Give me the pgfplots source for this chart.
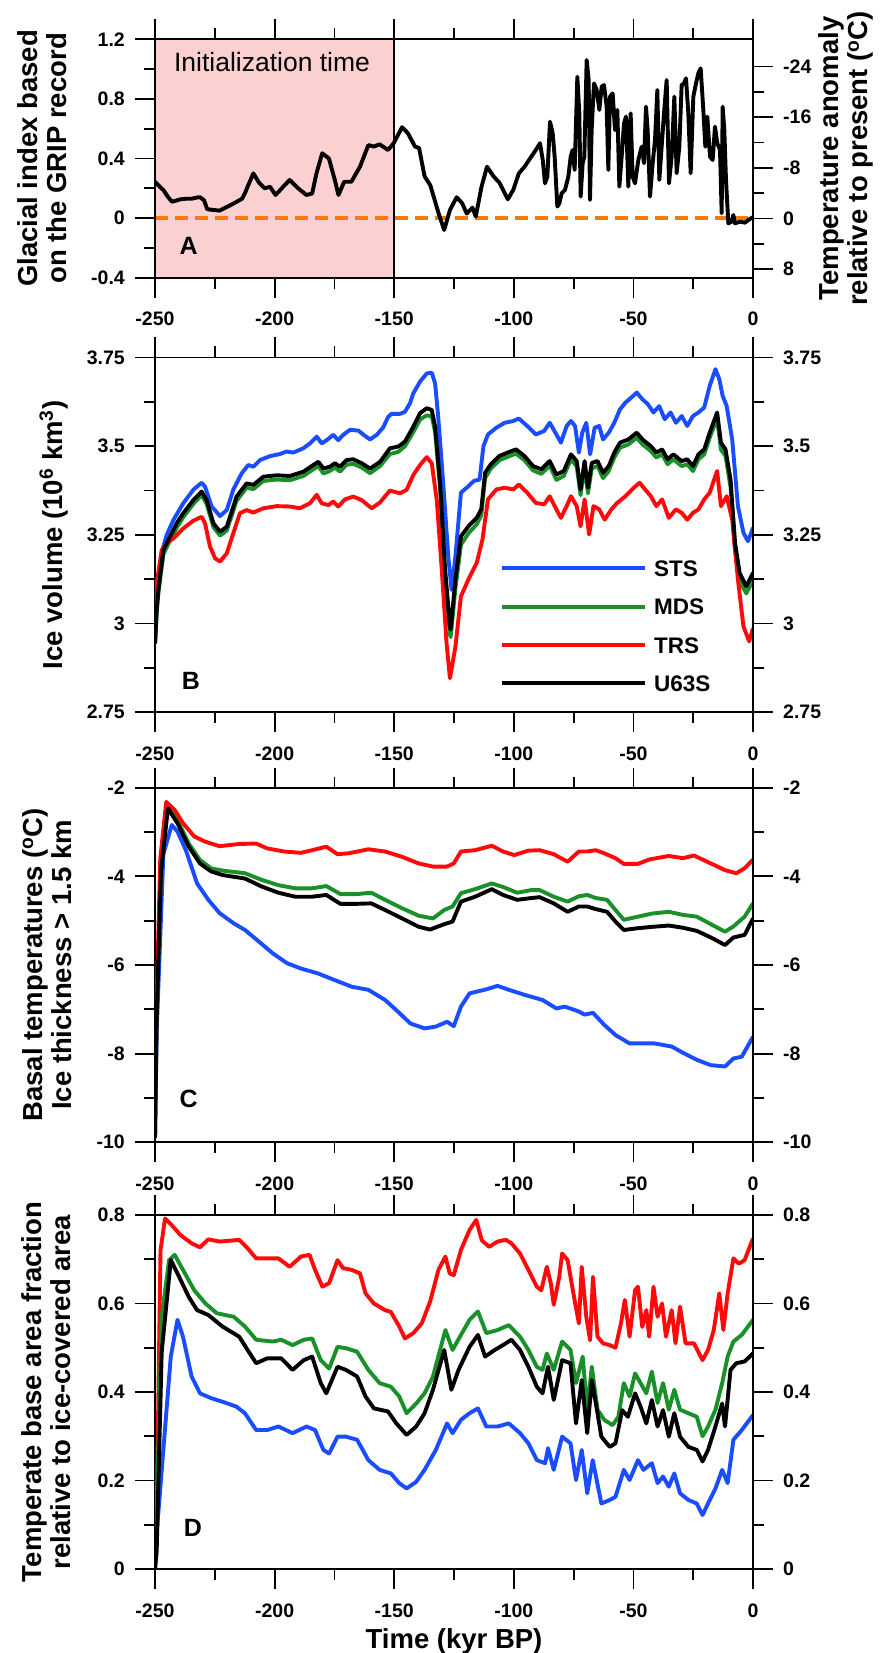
\documentclass[border=0pt]{standalone}
\usepackage{fontspec}
\setmainfont{Liberation Sans}
\usepackage{pgfplots}
\pgfplotsset{compat=1.18}

\definecolor{cblue}{RGB}{26,77,255}
\definecolor{cgreen}{RGB}{25,145,40}
\definecolor{cred}{RGB}{255,10,10}
\definecolor{corange}{RGB}{255,120,10}
\definecolor{cpink}{RGB}{250,208,208}

\newcommand\tickf{\fontsize{19.5pt}{19.5pt}\selectfont\bfseries}
\newcommand\labf{\fontsize{27.5pt}{29.5pt}\selectfont\bfseries}
\newcommand\legf{\fontsize{22.5pt}{22.5pt}\selectfont\bfseries}
\newcommand\letf{\fontsize{25pt}{25pt}\selectfont\bfseries}

\pgfplotsset{
  panel/.style={
    scale only axis, width=598pt,
    xmin=-250, xmax=0,
    xtick={-250,-200,-150,-100,-50,0},
    xticklabels={-250,-200,-150,-100,-50,0},
    minor xtick={-225,-175,-125,-75,-25},
    tick align=outside,
    major tick length=20pt, minor tick length=11pt,
    axis line style={line width=1.8pt},
    tick style={line width=1.8pt, black},
    ytick pos=left,
    xticklabel style={font=\tickf, inner sep=0pt, anchor=north},
    yticklabel style={font=\tickf, inner sep=0pt, anchor=east},
    xticklabel shift=14.5pt, yticklabel shift=10pt,
    every axis plot/.append style={line width=3.9pt, line join=round},
  },
  rpanel/.style={
    scale only axis, width=598pt,
    xmin=-250, xmax=0,
    hide x axis,
    axis y line*=right,
    tick align=outside,
    major tick length=20pt, minor tick length=11pt,
    axis line style={line width=1.8pt},
    tick style={line width=1.8pt, black},
    yticklabel style={font=\tickf, inner sep=0pt, anchor=west},
    yticklabel shift=10pt,
  },
}

\begin{document}
\begin{tikzpicture}
\useasboundingbox (0pt,0pt) rectangle (880pt,1653pt);

% ---------------- Panel A ----------------
\begin{axis}[panel, at={(155pt,1613.7pt)}, anchor=north west, height=238.4pt,
  ymin=-0.4, ymax=1.2, ytick={-0.4,0,0.4,0.8,1.2}, yticklabels={-0.4,0,0.4,0.8,1.2},
  minor ytick={-0.2,0.2,0.6,1.0}, axis on top]
\addplot[draw=none, fill=cpink, forget plot] coordinates {(-250,-0.4) (-250,1.2) (-150,1.2) (-150,-0.4)};
\addplot[black, line width=1.8pt, forget plot] coordinates {(-150,-0.4) (-150,1.2)};
\addplot[corange, line width=4pt, dash pattern=on 13pt off 7pt, forget plot] coordinates {(-250,0) (0,0)};
\addplot[black, forget plot] coordinates {
(-250,0.244) (-248,0.21) (-246.5,0.188) (-244.5,0.14) (-242.9,0.11) (-241,0.118) (-239.4,0.126) (-237,0.13) (-234.7,0.13) (-232.5,0.138) (-231.2,0.14) (-229.5,0.12) (-228.2,0.06) (-226,0.055) (-223,0.05) (-220.5,0.07) (-218.3,0.088) (-215.8,0.11) (-213.6,0.13) (-212.3,0.17) (-211.3,0.21) (-208.9,0.30) (-206.6,0.24) (-204.2,0.2) (-201.9,0.21) (-199.6,0.155) (-197,0.2) (-193.7,0.256) (-190.2,0.2) (-186.7,0.155) (-184.3,0.165) (-182.5,0.3) (-180.1,0.435) (-177.3,0.4) (-174.9,0.26) (-173.3,0.155) (-170.9,0.244) (-167.9,0.244) (-164.3,0.345) (-160.8,0.49) (-158.5,0.48) (-156.1,0.495) (-152.6,0.457) (-150.3,0.5) (-146.7,0.61) (-144.3,0.57) (-141.3,0.48) (-139.6,0.47) (-137.3,0.28) (-134.9,0.22) (-131.4,0.03) (-129.1,-0.08) (-126.7,0.054) (-123.9,0.14) (-121.6,0.1) (-119.7,0.03) (-117.3,0.07) (-115.9,0.01) (-113.5,0.21) (-111.2,0.345) (-108.4,0.278) (-106.1,0.24) (-102.5,0.126) (-100.2,0.19) (-97.9,0.3) (-95.5,0.345) (-93.2,0.4) (-90.8,0.457)
(-89.05,0.502) (-87.9,0.39) (-86.96,0.233) (-85.98,0.278) (-84.87,0.647) (-83.75,0.569) (-82.92,0.412) (-81.8,0.077) (-80.97,0.099) (-79.99,0.166) (-78.6,0.189) (-77.2,0.278) (-76.23,0.412) (-75.39,0.457) (-74.56,0.323) (-73.44,0.949) (-72.61,0.703) (-72.05,0.144) (-71.21,0.368) (-70.52,0.412) (-69.54,1.061) (-68.7,0.927) (-68.15,0.122) (-67.45,0.591) (-66.48,0.904) (-65.36,0.86) (-64.25,0.726) (-63.27,0.882) (-62.3,0.893) (-61.18,0.748) (-60.48,0.323) (-59.79,0.815) (-58.67,0.837) (-57.7,0.591) (-56.72,0.726) (-55.88,0.211) (-54.91,0.412) (-53.93,0.636) (-53.1,0.681) (-52.12,0.211) (-51.15,0.703) (-50.31,0.278) (-49.33,0.233) (-47.94,0.39) (-46.55,0.479) (-45.57,0.368) (-44.74,0.748) (-44.04,0.591) (-43.06,0.144) (-41.95,0.368) (-40.97,0.524) (-40.0,0.86) (-39.16,0.256) (-38.19,0.479) (-37.21,0.703) (-36.1,0.927) (-35.12,0.233) (-34.01,0.412) (-32.89,0.815) (-31.92,0.301) (-30.8,0.479) (-29.83,0.893) (-28.85,0.904) (-28.02,0.938) (-27.04,0.703) (-26.06,0.301) (-24.95,0.815) (-23.83,0.904) (-22.86,0.972) (-21.88,1.005) (-20.77,0.726) (-19.93,0.479) (-19.1,0.681) (-17.98,0.412) (-16.87,0.39) (-15.89,0.614) (-14.92,0.502) (-13.8,0.457) (-13.1,0.032) (-12.69,0.748) (-11.99,0.591) (-11.29,0.256) (-10.32,-0.035) (-8.92,-0.024) (-8.23,0.021) (-7.53,-0.035) (-5.44,-0.024) (-3.35,-0.031) (-1.96,-0.013) (-0.15,0.005)
};
\end{axis}
\begin{axis}[rpanel, at={(155pt,1613.7pt)}, anchor=north west, height=238.4pt,
  ymin=-28.3, ymax=9.33, y dir=reverse, ytick={-24,-16,-8,0,8}, yticklabels={-24,-16,-8,0,8},
  minor ytick={-20,-12,-4,4}]
\end{axis}

% ---------------- Panel B ----------------
\begin{axis}[panel, at={(155pt,1295.5pt)}, anchor=north west, height=354.8pt,
  ymin=2.75, ymax=3.75, ytick={2.75,3,3.25,3.5,3.75}, yticklabels={2.75,3,3.25,3.5,3.75},
  minor ytick={2.875,3.125,3.375,3.625},
  legend style={at={(rel axis cs:0.5769,0.4284)}, anchor=north west, draw=none, fill=none,
    inner sep=0pt, row sep=22.3pt, font=\legf,
    nodes={inner sep=0pt, text height=16pt, text depth=0pt},
    /tikz/every odd column/.append style={column sep=7pt}},
  legend cell align=left,
  legend image code/.code={\draw[#1, line width=4pt, line cap=butt] (0pt,0pt) -- (143pt,0pt);}]
\addplot[cblue] coordinates {
(-250.0,2.944) (-249.3,3.057) (-248.6,3.113) (-246.5,3.217) (-245.1,3.25) (-242.3,3.292) (-238.2,3.339) (-234.0,3.377) (-230.5,3.397) (-229.1,3.386) (-226.3,3.33) (-222.8,3.303) (-220.0,3.32) (-217.3,3.377) (-213.8,3.423) (-211.0,3.447) (-208.9,3.442) (-206.1,3.461) (-201.9,3.472) (-197.7,3.478) (-195.0,3.485) (-192.2,3.482) (-188.0,3.494) (-185.2,3.508) (-182.4,3.527) (-180.3,3.508) (-178.2,3.517) (-175.5,3.532) (-173.4,3.517) (-171.3,3.532) (-168.5,3.546) (-165.0,3.544) (-162.2,3.529) (-160.1,3.519) (-157.3,3.532) (-154.6,3.553) (-152.5,3.583) (-151.1,3.591) (-147.6,3.591) (-145.5,3.597) (-143.4,3.621) (-142.0,3.649) (-139.2,3.682) (-136.4,3.705) (-134.3,3.707) (-132.9,3.677) (-131.6,3.583) (-129.5,3.395) (-127.4,3.189) (-126.0,3.095)
(-124.4,3.19) (-122.1,3.369) (-119.0,3.387) (-116.7,3.402) (-114.3,3.406) (-112.7,3.5) (-110.8,3.533) (-107.3,3.552) (-103.8,3.566) (-100.2,3.571) (-97.9,3.578) (-94.4,3.557) (-90.8,3.533) (-87.3,3.543) (-85.0,3.566) (-82.6,3.538) (-80.3,3.51) (-77.9,3.557) (-76.1,3.571) (-74.4,3.557) (-72.8,3.482) (-71.4,3.538) (-69.7,3.566) (-68.1,3.477) (-66.2,3.552) (-64.3,3.557) (-62.7,3.519) (-60.3,3.538) (-58.0,3.566) (-55.6,3.604) (-53.3,3.623) (-50.9,3.637) (-48.6,3.651) (-46.2,3.632) (-43.9,3.618) (-41.6,3.595) (-39.2,3.613) (-36.9,3.576) (-34.5,3.595) (-32.2,3.566) (-29.8,3.585) (-27.5,3.557) (-25.1,3.585) (-22.8,3.595) (-20.4,3.609) (-18.1,3.67) (-15.7,3.717) (-14.1,3.689) (-12.7,3.642) (-11.0,3.613) (-8.7,3.519) (-6.3,3.331) (-4.0,3.256) (-2.1,3.232) (0,3.27)
};
\addplot[cgreen] coordinates {
(-250,2.944) (-249.3,3.03) (-248.6,3.085) (-246.5,3.195) (-243.7,3.235) (-240.9,3.27) (-238.2,3.3) (-234.0,3.337) (-230.5,3.362) (-228.4,3.337) (-225.6,3.272) (-222.8,3.248) (-220.0,3.262) (-215.9,3.346) (-211.7,3.383) (-208.9,3.379) (-204.7,3.402) (-199.1,3.406) (-193.6,3.404) (-188.0,3.416) (-183.8,3.435) (-181.7,3.444) (-179.6,3.423) (-176.9,3.43) (-174.8,3.44) (-172.7,3.428) (-169.9,3.448) (-167.1,3.45) (-163.6,3.44) (-160.1,3.424) (-155.9,3.444) (-151.8,3.478) (-148.3,3.484) (-145.5,3.5) (-142.0,3.54) (-139.2,3.575) (-136.4,3.587) (-134.3,3.584) (-132.9,3.54) (-130.8,3.38) (-128.8,3.14) (-126.7,2.97) (-126.4,2.962) (-124.4,3.1) (-122.1,3.222) (-119.0,3.254) (-115.5,3.28) (-113.6,3.305) (-112.0,3.41) (-109.6,3.437) (-106.1,3.46) (-102.6,3.47) (-99.1,3.479) (-95.5,3.46) (-92.0,3.432) (-88.5,3.422) (-85.0,3.445) (-82.2,3.405) (-79.1,3.416) (-76.1,3.463) (-73.7,3.443) (-72.1,3.362) (-70.4,3.443) (-69.0,3.367) (-67.4,3.438) (-65.0,3.444) (-62.7,3.41) (-60.3,3.43) (-58.0,3.468) (-55.6,3.496) (-52.1,3.505) (-48.6,3.524) (-46.2,3.505) (-42.7,3.486) (-40.4,3.468) (-38.0,3.477) (-35.7,3.449) (-33.3,3.463) (-29.8,3.444) (-27.5,3.449) (-25.1,3.43) (-22.8,3.463) (-20.4,3.477) (-18.1,3.524) (-15.0,3.578) (-13.4,3.49) (-11.5,3.473) (-9.4,3.385) (-7.5,3.205) (-5.6,3.12) (-2.8,3.085) (0,3.122)
};
\addplot[cred] coordinates {
(-250,2.95) (-249.3,3.113) (-247.2,3.207) (-245.1,3.226) (-242.3,3.24) (-238.2,3.268) (-234.0,3.29) (-230.5,3.301) (-229.1,3.283) (-227.0,3.217) (-224.9,3.184) (-222.8,3.175) (-220.0,3.198) (-217.3,3.254) (-214.5,3.311) (-211.7,3.32) (-208.9,3.313) (-204.7,3.325) (-199.1,3.331) (-193.6,3.33) (-189.4,3.325) (-185.2,3.339) (-182.4,3.363) (-180.3,3.339) (-177.5,3.334) (-175.5,3.344) (-173.4,3.33) (-170.6,3.35) (-167.1,3.358) (-163.6,3.348) (-159.4,3.325) (-156.0,3.341) (-151.8,3.375) (-147.6,3.367) (-144.8,3.377) (-142.0,3.419) (-139.2,3.447) (-136.4,3.469) (-134.3,3.452) (-132.2,3.348) (-130.2,3.16) (-128.1,2.944) (-126.7,2.846)
(-124.4,2.935) (-122.1,3.077) (-119.0,3.124) (-115.5,3.171) (-113.1,3.237) (-110.8,3.35) (-107.3,3.378) (-103.8,3.383) (-100.2,3.378) (-97.9,3.392) (-94.4,3.369) (-90.8,3.34) (-87.3,3.336) (-85.0,3.359) (-82.2,3.322) (-80.3,3.298) (-77.9,3.331) (-76.1,3.359) (-73.7,3.331) (-72.1,3.274) (-70.4,3.35) (-68.5,3.251) (-66.7,3.331) (-64.3,3.322) (-62.0,3.293) (-59.2,3.322) (-56.8,3.34) (-53.3,3.359) (-49.8,3.383) (-47.4,3.397) (-45.1,3.378) (-42.7,3.359) (-40.4,3.331) (-38.0,3.35) (-35.2,3.298) (-32.2,3.322) (-29.8,3.312) (-27.5,3.293) (-25.1,3.312) (-22.8,3.322) (-20.4,3.35) (-18.1,3.369) (-15.0,3.43) (-13.4,3.331) (-11.0,3.359) (-8.7,3.293) (-6.3,3.124) (-4.0,2.992) (-1.6,2.95) (0,2.987)
};
\addplot[black] coordinates {
(-250.0,2.944) (-249.3,3.038) (-248.6,3.095) (-246.5,3.207) (-243.7,3.245) (-240.9,3.283) (-238.2,3.311) (-234.0,3.348) (-230.5,3.372) (-228.4,3.348) (-225.6,3.283) (-222.8,3.259) (-220.0,3.273) (-215.9,3.358) (-211.7,3.395) (-208.9,3.391) (-204.7,3.414) (-199.1,3.418) (-193.6,3.416) (-188.0,3.428) (-183.8,3.447) (-181.7,3.456) (-179.6,3.437) (-176.9,3.442) (-174.8,3.452) (-172.7,3.442) (-169.9,3.461) (-167.1,3.463) (-163.6,3.452) (-160.1,3.437) (-155.9,3.456) (-151.8,3.494) (-148.3,3.499) (-145.5,3.513) (-142.0,3.555) (-139.2,3.593) (-136.4,3.607) (-134.3,3.602) (-132.9,3.555) (-130.8,3.395) (-128.8,3.16) (-126.7,2.991) (-126.4,2.983)
(-124.4,3.124) (-122.1,3.246) (-119.0,3.274) (-115.5,3.298) (-113.6,3.322) (-112.0,3.425) (-109.6,3.449) (-106.1,3.472) (-102.6,3.482) (-99.1,3.491) (-95.5,3.472) (-92.0,3.444) (-88.5,3.435) (-85.0,3.458) (-82.2,3.42) (-79.1,3.43) (-76.1,3.477) (-73.7,3.458) (-72.1,3.378) (-70.4,3.458) (-69.0,3.383) (-67.4,3.453) (-65.0,3.458) (-62.7,3.425) (-60.3,3.444) (-58.0,3.482) (-55.6,3.51) (-52.1,3.519) (-48.6,3.538) (-46.2,3.519) (-42.7,3.5) (-40.4,3.482) (-38.0,3.491) (-35.7,3.463) (-33.3,3.477) (-29.8,3.458) (-27.5,3.463) (-25.1,3.444) (-22.8,3.477) (-20.4,3.491) (-18.1,3.538) (-15.0,3.595) (-13.4,3.51) (-11.5,3.491) (-9.4,3.406) (-7.5,3.227) (-5.6,3.143) (-2.8,3.105) (0,3.143)
};
\legend{STS,MDS,TRS,U63S}
\end{axis}
\begin{axis}[rpanel, at={(155pt,1295.5pt)}, anchor=north west, height=354.8pt,
  ymin=2.75, ymax=3.75, ytick={2.75,3,3.25,3.5,3.75}, yticklabels={2.75,3,3.25,3.5,3.75},
  minor ytick={2.875,3.125,3.375,3.625}]
\end{axis}

% ---------------- Panel C ----------------
\begin{axis}[panel, at={(155pt,865.3pt)}, anchor=north west, height=354.6pt,
  ymin=-10, ymax=-2, ytick={-10,-8,-6,-4,-2}, yticklabels={-10,-8,-6,-4,-2},
  minor ytick={-9,-7,-5,-3}]
\addplot[cblue] coordinates {
(-250,-9.9) (-249.3,-7.5) (-246.5,-3.5) (-243.0,-2.84) (-240.6,-2.99) (-237.1,-3.41) (-232.4,-4.16) (-227.7,-4.53) (-223.0,-4.83) (-217.1,-5.06) (-212.4,-5.21) (-206.6,-5.47) (-200.7,-5.74) (-194.8,-5.96) (-189.0,-6.08) (-181.9,-6.19) (-174.9,-6.34) (-167.8,-6.49) (-160.8,-6.56) (-153.8,-6.79) (-149.1,-7.02) (-143.2,-7.32) (-137.3,-7.43) (-132.6,-7.39) (-127.9,-7.28) (-125.1,-7.38) (-122.1,-6.94) (-118.5,-6.64) (-111.5,-6.55) (-106.8,-6.47) (-102.1,-6.56) (-95.1,-6.68) (-88.0,-6.79) (-82.2,-6.98) (-78.6,-6.94) (-72.8,-7.05) (-70.4,-7.12) (-66.9,-7.08) (-62.2,-7.35) (-57.5,-7.58) (-51.6,-7.77) (-47.0,-7.77) (-41.1,-7.77) (-34.0,-7.84) (-29.3,-7.98) (-23.5,-8.14) (-17.6,-8.26) (-11.7,-8.29) (-8.2,-8.11) (-4.7,-8.07) (0,-7.62)
};
\addplot[cgreen] coordinates {
(-250,-9.9) (-249.3,-7.0) (-247.5,-3.8) (-244.8,-2.43) (-240.6,-2.73) (-235.9,-3.26) (-231.2,-3.63) (-226.5,-3.82) (-221.8,-3.87) (-212.4,-3.93) (-205.4,-4.08) (-198.4,-4.2) (-191.3,-4.27) (-184.3,-4.27) (-178.4,-4.22) (-172.5,-4.4) (-165.5,-4.4) (-159.6,-4.37) (-153.8,-4.53) (-146.7,-4.72) (-139.7,-4.89) (-133.8,-4.95) (-129.1,-4.76) (-125.6,-4.68) (-122.1,-4.38) (-116.2,-4.29) (-109.2,-4.16) (-104.5,-4.24) (-98.6,-4.37) (-92.7,-4.31) (-89.2,-4.31) (-83.3,-4.46) (-77.5,-4.57) (-72.8,-4.45) (-69.3,-4.42) (-65.7,-4.49) (-61.0,-4.53) (-57.5,-4.76) (-54.0,-4.98) (-48.1,-4.91) (-42.3,-4.84) (-35.2,-4.8) (-29.3,-4.87) (-23.5,-4.91) (-17.6,-5.08) (-11.7,-5.25) (-8.2,-5.13) (-3.5,-4.91) (0,-4.61)
};
\addplot[cred] coordinates {
(-250,-9.0) (-249.3,-6.8) (-247.8,-3.6) (-245.3,-2.32) (-241.8,-2.5) (-238.3,-2.8) (-233.6,-3.1) (-228.9,-3.22) (-223.0,-3.32) (-214.8,-3.27) (-207.7,-3.26) (-203.1,-3.37) (-196.0,-3.44) (-189.0,-3.47) (-184.3,-3.41) (-178.4,-3.33) (-173.7,-3.5) (-169.0,-3.48) (-160.8,-3.39) (-153.8,-3.44) (-146.7,-3.56) (-139.7,-3.71) (-133.8,-3.78) (-127.9,-3.78) (-125.1,-3.71) (-122.1,-3.44) (-116.2,-3.41) (-109.2,-3.31) (-104.5,-3.44) (-99.8,-3.52) (-93.9,-3.42) (-89.2,-3.41) (-83.3,-3.5) (-77.5,-3.67) (-72.8,-3.44) (-69.3,-3.44) (-65.7,-3.41) (-62.2,-3.48) (-57.5,-3.59) (-54.0,-3.72) (-48.1,-3.72) (-43.4,-3.62) (-35.2,-3.54) (-29.3,-3.59) (-24.7,-3.53) (-17.6,-3.71) (-11.7,-3.86) (-7.0,-3.93) (-3.5,-3.82) (0,-3.62)
};
\addplot[black] coordinates {
(-250,-9.9) (-249.3,-7.2) (-247.5,-3.9) (-244.6,-2.47) (-240.6,-2.8) (-235.9,-3.33) (-231.2,-3.71) (-226.5,-3.89) (-221.8,-3.97) (-212.4,-4.05) (-205.4,-4.23) (-198.4,-4.37) (-191.3,-4.46) (-184.3,-4.46) (-178.4,-4.42) (-172.5,-4.62) (-165.5,-4.62) (-159.6,-4.61) (-153.8,-4.76) (-146.7,-4.95) (-139.7,-5.14) (-135.0,-5.2) (-129.1,-5.08) (-125.6,-5.02) (-122.1,-4.57) (-116.2,-4.46) (-109.2,-4.29) (-104.5,-4.42) (-98.6,-4.53) (-92.7,-4.49) (-89.2,-4.47) (-83.3,-4.61) (-77.5,-4.8) (-72.8,-4.68) (-69.3,-4.68) (-65.7,-4.74) (-61.0,-4.8) (-57.5,-5.02) (-54.0,-5.21) (-48.1,-5.17) (-42.3,-5.14) (-35.2,-5.11) (-29.3,-5.16) (-23.5,-5.23) (-17.6,-5.38) (-11.7,-5.55) (-8.2,-5.38) (-3.5,-5.32) (0,-4.95)
};
\end{axis}
\begin{axis}[rpanel, at={(155pt,865.3pt)}, anchor=north west, height=354.6pt,
  ymin=-10, ymax=-2, ytick={-10,-8,-6,-4,-2}, yticklabels={-10,-8,-6,-4,-2},
  minor ytick={-9,-7,-5,-3}]
\end{axis}

% ---------------- Panel D ----------------
\begin{axis}[panel, at={(155pt,438pt)}, anchor=north west, height=354pt,
  ymin=0, ymax=0.8, ytick={0,0.2,0.4,0.6,0.8}, yticklabels={0,0.2,0.4,0.6,0.8},
  minor ytick={0.1,0.3,0.5,0.7}]
\addplot[cred] coordinates {
(-250,0.03) (-249.3,0.12) (-247.7,0.72) (-245.8,0.792) (-243.0,0.777) (-239.4,0.755) (-234.7,0.736) (-231.2,0.727) (-227.7,0.745) (-223.0,0.74) (-218.3,0.742) (-214.8,0.744) (-211.3,0.725) (-207.7,0.702) (-203.1,0.702) (-198.4,0.702) (-193.7,0.683) (-189.0,0.706) (-185.4,0.71) (-183.1,0.676) (-180.0,0.638) (-177.2,0.646) (-173.7,0.698) (-171.4,0.68) (-167.8,0.676) (-164.3,0.668) (-162.0,0.623) (-158.5,0.6) (-153.8,0.585) (-151.4,0.581) (-147.9,0.548) (-145.5,0.521) (-142.0,0.533) (-138.5,0.555) (-135.0,0.604) (-131.5,0.676) (-128.6,0.706) (-126.8,0.668) (-125.1,0.664) (-122.1,0.721) (-118.5,0.766) (-115.7,0.789) (-113.4,0.743) (-110.3,0.728) (-106.8,0.74) (-103.3,0.744) (-101.0,0.736) (-97.4,0.713) (-93.9,0.676) (-90.4,0.638) (-88.5,0.63) (-86.2,0.683) (-84.5,0.645) (-83.3,0.597) (-81.0,0.66) (-79.8,0.713) (-77.5,0.698) (-75.1,0.623) (-72.8,0.555) (-71.6,0.683) (-69.7,0.57) (-68.1,0.517) (-66.9,0.66) (-65.0,0.525) (-62.7,0.51) (-59.9,0.506) (-57.5,0.5) (-55.2,0.555) (-53.6,0.608) (-51.6,0.525) (-49.3,0.63) (-48.1,0.638) (-46.3,0.547) (-44.6,0.585) (-43.4,0.525) (-41.6,0.638) (-39.9,0.57) (-38.0,0.6) (-36.4,0.525) (-34.0,0.585) (-32.4,0.51) (-30.5,0.593) (-28.2,0.51) (-24.7,0.51) (-21.1,0.472) (-18.8,0.495) (-16.4,0.54) (-14.1,0.623) (-12.4,0.54) (-10.6,0.623) (-8.2,0.702) (-5.9,0.69) (-3.5,0.698) (0,0.747)
};
\addplot[cgreen] coordinates {
(-250,0.0) (-249.3,0.12) (-247.2,0.57) (-244.1,0.698) (-241.8,0.71) (-238.3,0.676) (-233.6,0.63) (-228.9,0.6) (-224.2,0.578) (-217.1,0.57) (-212.4,0.548) (-207.7,0.518) (-200.7,0.514) (-197.2,0.518) (-192.5,0.506) (-187.8,0.518) (-184.3,0.521) (-180.7,0.472) (-177.2,0.453) (-173.7,0.502) (-170.2,0.499) (-165.5,0.491) (-160.8,0.45) (-156.1,0.42) (-151.4,0.412) (-147.9,0.39) (-144.8,0.352) (-140.8,0.374) (-137.3,0.397) (-133.8,0.435) (-128.6,0.54) (-125.6,0.495) (-122.1,0.529) (-118.5,0.563) (-115.0,0.582) (-111.5,0.533) (-106.8,0.54) (-102.1,0.551) (-97.4,0.525) (-93.9,0.495) (-90.4,0.457) (-88.0,0.45) (-86.2,0.487) (-83.3,0.45) (-79.8,0.514) (-76.3,0.495) (-74.0,0.42) (-71.2,0.48) (-69.3,0.36) (-67.4,0.457) (-65.0,0.36) (-62.2,0.337) (-58.7,0.325) (-56.3,0.344) (-54.0,0.42) (-51.6,0.39) (-49.3,0.442) (-47.0,0.42) (-44.6,0.397) (-42.3,0.446) (-39.9,0.375) (-37.6,0.42) (-35.2,0.36) (-32.9,0.405) (-30.5,0.36) (-27.0,0.352) (-23.5,0.344) (-21.1,0.3) (-18.8,0.322) (-15.7,0.36) (-12.9,0.42) (-10.6,0.48) (-8.2,0.514) (-4.7,0.529) (0,0.563)
};
\addplot[cblue] coordinates {
(-250,0.0) (-249.3,0.08) (-246.5,0.27) (-243.4,0.48) (-240.6,0.563) (-238.3,0.525) (-234.7,0.435) (-231.2,0.397) (-226.5,0.386) (-221.8,0.378) (-216.0,0.367) (-212.4,0.352) (-207.7,0.314) (-203.1,0.314) (-198.4,0.322) (-192.5,0.307) (-186.6,0.322) (-183.1,0.314) (-179.6,0.269) (-177.2,0.261) (-173.7,0.299) (-170.2,0.299) (-165.5,0.292) (-160.8,0.246) (-156.1,0.224) (-151.4,0.216) (-147.9,0.194) (-144.8,0.182) (-140.8,0.197) (-137.3,0.224) (-132.6,0.269) (-127.9,0.329) (-125.6,0.307) (-122.1,0.337) (-118.5,0.352) (-115.0,0.363) (-111.5,0.322) (-106.8,0.322) (-102.1,0.329) (-97.4,0.307) (-93.9,0.284) (-90.4,0.246) (-86.9,0.239) (-85.7,0.273) (-83.3,0.224) (-79.8,0.299) (-76.3,0.284) (-74.0,0.201) (-71.6,0.269) (-69.3,0.171) (-67.0,0.246) (-63.4,0.148) (-59.9,0.156) (-57.5,0.163) (-54.0,0.224) (-51.6,0.201) (-48.1,0.246) (-45.8,0.224) (-42.3,0.239) (-39.9,0.194) (-37.6,0.209) (-35.2,0.186) (-32.9,0.216) (-30.5,0.171) (-27.0,0.156) (-23.5,0.148) (-21.1,0.122) (-18.8,0.148) (-15.7,0.182) (-12.9,0.224) (-10.6,0.194) (-8.2,0.292) (-4.7,0.314) (0,0.348)
};
\addplot[black] coordinates {
(-250,0.0) (-249.3,0.04) (-247.2,0.49) (-243.4,0.698) (-240.6,0.668) (-235.9,0.615) (-232.4,0.585) (-227.7,0.574) (-221.8,0.548) (-214.8,0.525) (-211.3,0.495) (-207.7,0.465) (-203.1,0.476) (-197.2,0.476) (-192.5,0.45) (-187.8,0.472) (-184.3,0.48) (-180.7,0.42) (-178.4,0.397) (-173.7,0.457) (-170.2,0.45) (-165.5,0.435) (-162.0,0.39) (-158.5,0.363) (-152.6,0.356) (-149.1,0.329) (-144.8,0.303) (-140.8,0.322) (-137.3,0.352) (-133.8,0.405) (-129.1,0.495) (-126.1,0.405) (-123.1,0.45) (-118.5,0.502) (-115.0,0.529) (-112.0,0.48) (-108.0,0.495) (-104.5,0.506) (-101.0,0.518) (-97.4,0.495) (-93.9,0.457) (-90.4,0.412) (-88.0,0.397) (-85.7,0.457) (-83.3,0.382) (-79.8,0.472) (-76.3,0.465) (-74.0,0.329) (-71.6,0.427) (-69.3,0.307) (-67.4,0.427) (-65.0,0.352) (-63.4,0.299) (-59.9,0.276) (-57.5,0.284) (-54.7,0.359) (-52.3,0.344) (-49.3,0.397) (-47.0,0.367) (-44.6,0.329) (-42.3,0.382) (-39.9,0.322) (-37.6,0.359) (-35.2,0.299) (-32.9,0.352) (-30.5,0.299) (-27.0,0.276) (-23.5,0.269) (-21.1,0.243) (-18.8,0.269) (-15.7,0.322) (-12.9,0.374) (-11.7,0.322) (-9.4,0.45) (-7.0,0.465) (-3.5,0.469) (0,0.487)
};
\end{axis}
\begin{axis}[rpanel, at={(155pt,438pt)}, anchor=north west, height=354pt,
  ymin=0, ymax=0.8, ytick={0,0.2,0.4,0.6,0.8}, yticklabels={0,0.2,0.4,0.6,0.8},
  minor ytick={0.1,0.3,0.5,0.7}]
\end{axis}

% ---------------- Texts ----------------
\node[rotate=90, align=center, font=\labf] at (42pt,1494.5pt) {Glacial index based\\on the GRIP record};
\node[rotate=90, align=center, font=\labf] at (846pt,1494.5pt) {Temperature anomaly\\relative to present (\textsuperscript{o}C)};
\node[rotate=90, anchor=base, font=\labf] at (62pt,1118pt) {Ice volume (10\textsuperscript{6} km\textsuperscript{3})};
\node[rotate=90, align=center, font=\labf] at (47pt,688pt) {Basal temperatures (\textsuperscript{o}C)\\Ice thickness > 1.5 km};
\node[rotate=90, align=center, font=\labf] at (46pt,261pt) {Temperate base area fraction\\relative to ice-covered area};
\node[anchor=base, font=\labf] at (454pt,5pt) {Time (kyr BP)};
\node[anchor=base, font=\fontsize{26.5pt}{26.5pt}\selectfont] at (272pt,1581pt) {Initialization time};
\node[anchor=base, font=\letf] at (188.7pt,1398pt) {A};
\node[anchor=base, font=\letf] at (191pt,963pt) {B};
\node[anchor=base, font=\letf] at (188.6pt,545pt) {C};
\node[anchor=base, font=\letf] at (192.9pt,116pt) {D};
\end{tikzpicture}
\end{document}
